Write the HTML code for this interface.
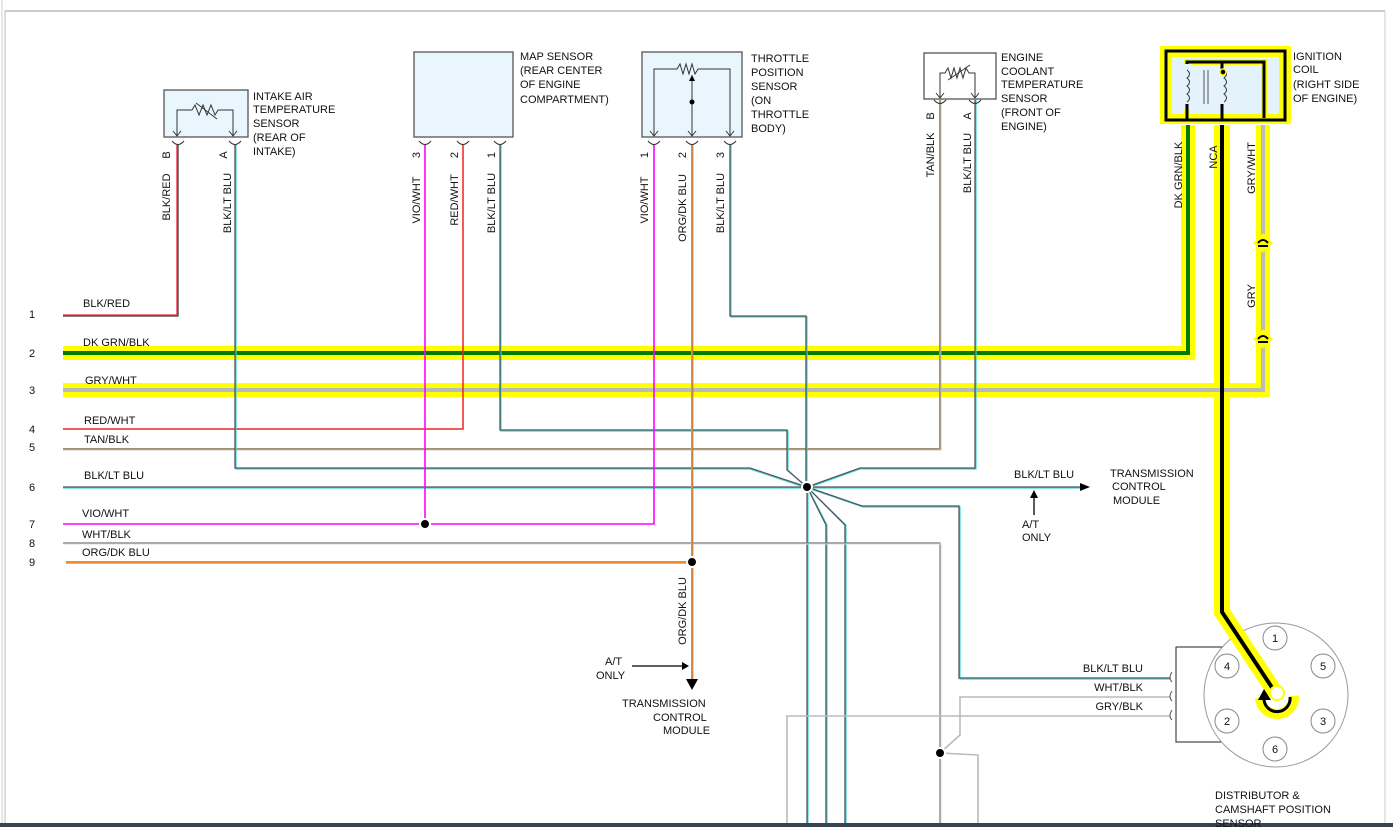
<!DOCTYPE html>
<html><head><meta charset="utf-8"><style>
html,body{margin:0;padding:0;background:#fff}
svg{display:block}
text{font-family:"Liberation Sans",sans-serif;font-size:11px;fill:#111}
</style></head><body>
<svg width="1393" height="827" viewBox="0 0 1393 827" xmlns="http://www.w3.org/2000/svg">
<line x1="2" y1="0" x2="2" y2="827" stroke="#ccc" stroke-width="1"/>
<line x1="5" y1="11" x2="5" y2="827" stroke="#bbb" stroke-width="1"/>
<line x1="5" y1="11" x2="1385" y2="11" stroke="#bbb" stroke-width="1.5"/>
<line x1="1385" y1="11" x2="1385" y2="827" stroke="#ccc" stroke-width="1"/>
<rect x="0" y="823" width="1393" height="4" fill="#3a4350"/>

<g fill="none" stroke-linejoin="miter">
<polyline points="63,353 1188,353 1188,125" stroke="#ffff00" stroke-width="14"/>
<polyline points="63,390 1263,390 1263,125" stroke="#ffff00" stroke-width="14"/>
<polyline points="1222,125 1222,612 1275,692" stroke="#ffff00" stroke-width="16"/>

<polyline points="63,316 178,316 178,145" stroke="#555" stroke-width="1.5"/>
<polyline points="63,315 177,315 177,145" stroke="#e23" stroke-width="1.3"/>
<polyline points="63,353 1188,353 1188,125" stroke="#007a00" stroke-width="4"/>
<polyline points="63,390 1263,390 1263,125" stroke="#bbb" stroke-width="4"/>
<polyline points="63,429 463,429 463,145" stroke="#e22" stroke-width="1.5"/>
<polyline points="63,449 940,449 940,100" stroke="#a09070" stroke-width="2"/>
<polyline points="63,450 941,450 941,100" stroke="#bbb" stroke-width="0.8"/>

<g stroke="#3cd8d8" stroke-width="1.2">
<polyline points="236,145 236,469 750,469 807,488"/>
<polyline points="501,145 501,431 788,431 788,470 807,488"/>
<polyline points="731,145 731,317 807,317 807,488"/>
<polyline points="976,100 976,469 860,469 807,488"/>
<polyline points="63,488 1080,488"/>
<polyline points="808,488 808,823"/>
<polyline points="808,488 827,525 827,823"/>
<polyline points="808,488 846,525 846,823"/>
<polyline points="808,488 863,507 960,507 960,679 1170,679"/>
</g>
<g stroke="#555" stroke-width="1.3">
<polyline points="235,145 235,468 750,468 807,487"/>
<polyline points="500,145 500,430 787,430 787,470 807,487"/>
<polyline points="730,145 730,316 806,316 806,487"/>
<polyline points="975,100 975,468 860,468 807,487"/>
<polyline points="63,487 1080,487"/>
<polyline points="807,487 807,823"/>
<polyline points="807,487 826,525 826,823"/>
<polyline points="807,487 845,525 845,823"/>
<polyline points="807,487 862,506 959,506 959,678 1170,678"/>
</g>

<polyline points="63,524 654,524 654,145" stroke="#f0f" stroke-width="1.6"/>
<line x1="425" y1="145" x2="425" y2="524" stroke="#f0f" stroke-width="1.6"/>
<polyline points="63,543 940,543 940,823" stroke="#777" stroke-width="1.2"/>
<polyline points="64,544 941,544 941,823" stroke="#ddd" stroke-width="1"/>
<polyline points="940,753 960,735 960,697 1170,697" stroke="#bbb" stroke-width="1.6"/>
<polyline points="940,753 978,755 978,823" stroke="#bbb" stroke-width="1.6"/>
<polyline points="787,823 787,716 1170,716" stroke="#bbb" stroke-width="1.6"/>
<polyline points="66,563 692,563" stroke="#5577aa" stroke-width="1"/>
<polyline points="66,562 692,562" stroke="#f08a30" stroke-width="2"/>
<line x1="692" y1="145" x2="692" y2="680" stroke="#f08a30" stroke-width="2"/>
<line x1="693" y1="145" x2="693" y2="680" stroke="#777" stroke-width="0.6"/>
</g>

<g fill="#000" stroke="#fff" stroke-width="2">
<circle cx="807" cy="487" r="5"/>
<circle cx="425" cy="524" r="5"/>
<circle cx="692" cy="562" r="5"/>
<circle cx="940" cy="753" r="5"/>
</g>

<polygon points="1080,483 1090,487 1080,491" fill="#000"/>
<line x1="1034" y1="515" x2="1034" y2="496" stroke="#000" stroke-width="1.3"/>
<polygon points="1030,498 1034,490 1038,498" fill="#000"/>
<polygon points="686,679 698,679 692,690" fill="#000"/>
<line x1="632" y1="666" x2="683" y2="666" stroke="#000" stroke-width="1.3"/>
<polygon points="682,662 689,666 682,670" fill="#000"/>

<rect x="164" y="90" width="84" height="47" fill="#eaf6fd" stroke="#555" stroke-width="1.3"/>
<polyline points="177,135 177,110 192,110 195,105 199,115 203,105 207,115 211,105 215,115 218,110 233,110 233,135" fill="none" stroke="#333" stroke-width="1"/>
<line x1="196" y1="103" x2="217" y2="119" stroke="#333"/>
<g fill="none" stroke="#333" stroke-width="1">
<path d="M173,131 L177,136 L181,131 M229,131 L233,136 L237,131"/>
<path d="M172,141 Q178,148 184,141 M229,141 Q235,148 241,141"/>
<path d="M419,141 Q425,148 431,141 M457,141 Q463,148 469,141 M494,141 Q500,148 506,141"/>
<path d="M648,141 Q654,148 660,141 M686,141 Q692,148 698,141 M724,141 Q730,148 736,141"/>
<path d="M934,100 Q940,107 946,100 M969,100 Q975,107 981,100"/>
</g>
<rect x="414" y="52" width="99" height="85" fill="#eaf6fd" stroke="#555" stroke-width="1.3"/>
<rect x="642" y="52" width="100" height="85" fill="#eaf6fd" stroke="#555" stroke-width="1.3"/>
<polyline points="654,135 654,69 677,69 680,64 683,74 686,64 689,74 692,64 695,74 698,69 730,69 730,135" fill="none" stroke="#333"/>
<line x1="692" y1="75" x2="692" y2="135" stroke="#333"/>
<polygon points="689,81 692,75 695,81" fill="#000"/>
<circle cx="692" cy="102" r="2.5" fill="#000"/>
<path d="M650,131 L654,136 L658,131 M688,131 L692,136 L696,131 M726,131 L730,136 L734,131" fill="none" stroke="#333"/>
<rect x="924" y="53" width="72" height="46" fill="#fff" stroke="#555" stroke-width="1.3"/>
<polyline points="940,97 940,73 945,73 948,68 951,78 954,68 957,78 960,68 963,78 966,68 969,73 975,73 975,97" fill="none" stroke="#333"/>
<line x1="948" y1="80" x2="970" y2="65" stroke="#333"/>
<path d="M936,93 L940,98 L944,93 M971,93 L975,98 L979,93" fill="none" stroke="#333"/>

<rect x="1160" y="46" width="131" height="78" fill="#ffff00"/>
<rect x="1166" y="51" width="119" height="69" fill="none" stroke="#000" stroke-width="3"/>
<rect x="1172" y="57" width="107" height="57" fill="#e4f2fb"/>
<polyline points="1187,118 1187,62 1264,62 1264,118" fill="none" stroke="#ffff00" stroke-width="6"/>
<polyline points="1187,118 1187,62 1264,62 1264,118" fill="none" stroke="#000" stroke-width="3"/>
<rect x="1178" y="64" width="14" height="46" fill="#e4f2fb"/>
<path d="M1187,70 q5,4 0,8 q5,4 0,8 q5,4 0,8 q5,4 0,8" fill="none" stroke="#333"/>
<path d="M1224,70 q5,4 0,8 q5,4 0,8 q5,4 0,8 q5,4 0,8" fill="none" stroke="#333"/>
<line x1="1204" y1="70" x2="1204" y2="104" stroke="#555"/>
<line x1="1208" y1="70" x2="1208" y2="104" stroke="#555"/>
<line x1="1222" y1="62" x2="1222" y2="70" stroke="#000" stroke-width="3"/>
<circle cx="1223" cy="72" r="3" fill="#000" stroke="#ff0" stroke-width="1.5"/>
<line x1="1187" y1="104" x2="1187" y2="120" stroke="#000" stroke-width="3"/>
<line x1="1222" y1="104" x2="1222" y2="120" stroke="#000" stroke-width="3"/>

<g>
<rect x="1256" y="236" width="14" height="14" fill="#ff0" transform="rotate(45 1263 243)"/>
<path d="M1258,243 q5,-6 10,0 M1258,246 h10" stroke="#000" stroke-width="2" fill="none"/>
<rect x="1256" y="332" width="14" height="14" fill="#ff0" transform="rotate(45 1263 339)"/>
<path d="M1258,339 q5,-6 10,0 M1258,342 h10" stroke="#000" stroke-width="2" fill="none"/>
</g>

<rect x="1176" y="647" width="46" height="95" fill="none" stroke="#222" stroke-width="1"/>
<circle cx="1276" cy="695" r="72" fill="#fff" stroke="#999" stroke-width="1"/>
<path d="M1172,672 q-4,6 0,10 M1172,691 q-4,6 0,10 M1172,710 q-4,6 0,10" fill="none" stroke="#555"/>
<g fill="#fff" stroke="#888">
<circle cx="1275" cy="638" r="12"/><circle cx="1227" cy="666" r="12"/><circle cx="1323" cy="666" r="12"/>
<circle cx="1227" cy="721" r="12"/><circle cx="1323" cy="721" r="12"/><circle cx="1275" cy="749" r="12"/>
</g>
<g text-anchor="middle">
<text x="1275" y="642">1</text><text x="1227" y="670">4</text><text x="1323" y="670">5</text>
<text x="1227" y="725">2</text><text x="1323" y="725">3</text><text x="1275" y="753">6</text>
</g>
<g fill="none">
<polyline points="1222,600 1222,612 1275,692" stroke="#ffff00" stroke-width="16"/>
<path d="M1260,698 A17,17 0 1,0 1294,696" stroke="#ffff00" stroke-width="10"/>
<polyline points="1222,125 1222,612 1275,692" stroke="#000" stroke-width="4"/>
<path d="M1264,700 A13,13 0 1,0 1290,697" stroke="#000" stroke-width="3"/>
</g>
<circle cx="1277" cy="693" r="7" fill="#fff" stroke="#ff0" stroke-width="2"/>
<polygon points="1258,700 1264,689 1271,700" fill="#000"/>

<g>
<text x="29" y="318">1</text><text x="29" y="357">2</text><text x="29" y="394">3</text>
<text x="29" y="433">4</text><text x="29" y="451">5</text><text x="29" y="491">6</text>
<text x="29" y="528">7</text><text x="29" y="547">8</text><text x="29" y="566">9</text>
</g>
<text x="83" y="307">BLK/RED</text>
<text x="83" y="346">DK GRN/BLK</text>
<text x="85" y="384">GRY/WHT</text>
<text x="84" y="424">RED/WHT</text>
<text x="84" y="443">TAN/BLK</text>
<text x="84" y="479">BLK/LT BLU</text>
<text x="82" y="517">VIO/WHT</text>
<text x="82" y="538">WHT/BLK</text>
<text x="82" y="556">ORG/DK BLU</text>
<text x="1014" y="478">BLK/LT BLU</text>
<text x="1110" y="477">TRANSMISSION</text>
<text x="1112" y="490">CONTROL</text>
<text x="1113" y="504">MODULE</text>
<text x="1022" y="528">A/T</text>
<text x="1022" y="541">ONLY</text>
<text x="605" y="665">A/T</text>
<text x="596" y="679">ONLY</text>
<text x="622" y="707">TRANSMISSION</text>
<text x="653" y="721">CONTROL</text>
<text x="663" y="734">MODULE</text>
<text x="1143" y="672" text-anchor="end">BLK/LT BLU</text>
<text x="1143" y="691" text-anchor="end">WHT/BLK</text>
<text x="1143" y="710" text-anchor="end">GRY/BLK</text>
<text x="1215" y="799">DISTRIBUTOR &amp;</text>
<text x="1215" y="813">CAMSHAFT POSITION</text>
<text x="1215" y="827">SENSOR</text>

<text x="253" y="100">INTAKE AIR</text><text x="253" y="113">TEMPERATURE</text><text x="253" y="127">SENSOR</text><text x="253" y="141">(REAR OF</text><text x="253" y="155">INTAKE)</text>
<text x="520" y="60">MAP SENSOR</text><text x="520" y="74">(REAR CENTER</text><text x="520" y="88">OF ENGINE</text><text x="520" y="103">COMPARTMENT)</text>
<text x="751" y="62">THROTTLE</text><text x="751" y="76">POSITION</text><text x="751" y="90">SENSOR</text><text x="751" y="104">(ON</text><text x="751" y="118">THROTTLE</text><text x="751" y="132">BODY)</text>
<text x="1001" y="61">ENGINE</text><text x="1001" y="75">COOLANT</text><text x="1001" y="88">TEMPERATURE</text><text x="1001" y="102">SENSOR</text><text x="1001" y="116">(FRONT OF</text><text x="1001" y="130">ENGINE)</text>
<text x="1293" y="60">IGNITION</text><text x="1293" y="73">COIL</text><text x="1293" y="88">(RIGHT SIDE</text><text x="1293" y="102">OF ENGINE)</text>

<g text-anchor="middle">
<text transform="translate(170,155) rotate(-90)">B</text>
<text transform="translate(227,155) rotate(-90)">A</text>
<text transform="translate(170,197) rotate(-90)">BLK/RED</text>
<text transform="translate(231,203) rotate(-90)">BLK/LT BLU</text>
<text transform="translate(420,155) rotate(-90)">3</text>
<text transform="translate(458,155) rotate(-90)">2</text>
<text transform="translate(495,155) rotate(-90)">1</text>
<text transform="translate(420,200) rotate(-90)">VIO/WHT</text>
<text transform="translate(458,200) rotate(-90)">RED/WHT</text>
<text transform="translate(495,203) rotate(-90)">BLK/LT BLU</text>
<text transform="translate(648,155) rotate(-90)">1</text>
<text transform="translate(686,155) rotate(-90)">2</text>
<text transform="translate(724,155) rotate(-90)">3</text>
<text transform="translate(648,200) rotate(-90)">VIO/WHT</text>
<text transform="translate(686,208) rotate(-90)">ORG/DK BLU</text>
<text transform="translate(724,203) rotate(-90)">BLK/LT BLU</text>
<text transform="translate(934,116) rotate(-90)">B</text>
<text transform="translate(971,116) rotate(-90)">A</text>
<text transform="translate(934,155) rotate(-90)">TAN/BLK</text>
<text transform="translate(971,163) rotate(-90)">BLK/LT BLU</text>
<text transform="translate(1182,175) rotate(-90)">DK GRN/BLK</text>
<text transform="translate(1217,157) rotate(-90)">NCA</text>
<text transform="translate(1255,168) rotate(-90)">GRY/WHT</text>
<text transform="translate(1255,296) rotate(-90)">GRY</text>
<text transform="translate(686,611) rotate(-90)">ORG/DK BLU</text>
</g>
</svg>
</body></html>
